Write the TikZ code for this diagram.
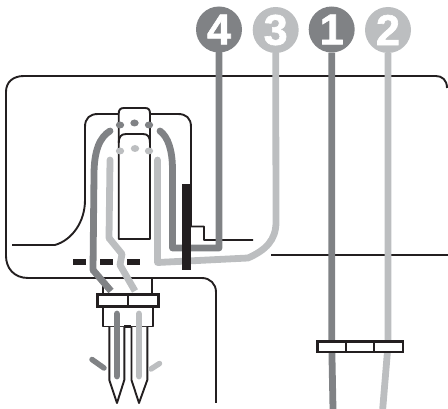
\documentclass[tikz,border=0pt]{standalone}
\usepackage{fontspec}
\setmainfont{Liberation Sans}
\newfontfamily\badgefont[FakeBold=1.5]{Liberation Sans}
\usetikzlibrary{shapes.geometric}
\definecolor{tdark}{HTML}{808285}
\definecolor{tlight}{HTML}{BCBEC0}
\definecolor{ink}{HTML}{231F20}
\tikzset{
  outline/.style={draw=ink,line width=1.9pt,line join=round},
  dark thread/.style={draw=tdark,line width=6.8pt},
  light thread/.style={draw=tlight,line width=6.8pt},
  badge/.style={circle,minimum size=46pt,inner sep=0pt,text=white,font=\badgefont\bfseries\fontsize{43}{43}\selectfont},
  dot/.style={ellipse,minimum width=8.5pt,minimum height=7pt,inner sep=0pt},
}
\begin{document}
\begin{tikzpicture}[x=1pt,y=-1pt]
\useasboundingbox (0,0) rectangle (448,409);
% body outlines
\draw[outline] (202,278) -- (28,278) .. controls (14,278) and (6,268) .. (6,256) -- (6,92) .. controls (6,82) and (13,76) .. (24,76) -- (436,76) .. controls (442,76) and (447,80) .. (447,88);
\draw[outline] (12,245) -- (55,245) .. controls (72,240) and (85,222) .. (85,200) -- (85,127) .. controls (85,118) and (90,114) .. (98,114) -- (118.7,114);
\draw[outline] (150,114) -- (178,114) .. controls (186,114) and (191,118) .. (191,127) -- (191,226.5) -- (204,226.5) -- (204,240) -- (253,240);
\draw[outline] (271,255) -- (448,255);
\draw[outline] (118.7,239) -- (118.7,114) .. controls (118.7,110) and (120,108) .. (124,108) -- (145,108) .. controls (149,108) and (150,110) .. (150,114) -- (150,239) -- cycle;
\draw[outline] (118.7,143) .. controls (118.7,137) and (121,134) .. (126,134) -- (143,134) .. controls (148,134) and (150,137) .. (150,143);
% lower body
\draw[outline] (202,278) .. controls (210,278) and (216,284) .. (216,292) -- (216,403);
\draw[outline] (103,278) -- (103,294);
\draw[outline] (152,278) -- (152,294);
% dots
\foreach \n/\px/\py/\c in {da/120/125/tdark,db/134.5/123/tdark,dc/149/125/tdark,la/120/151/tlight,lb/135/148.5/tlight,lc/149/151/tlight}
  \node[dot,fill=\c] (\n) at (\px,\py) {};
% badges
\node[badge,fill=tdark] (n4) at (219,29.5) {4};
\node[badge,fill=tlight] (n3) at (275.7,30) {3};
\node[badge,fill=tdark] (n1) at (331.7,29.5) {1};
\node[badge,fill=tlight] (n2) at (388,30) {2};
% threads
\draw[light thread,line cap=round,line join=round] (157.5,160) -- (157.5,262.5) -- (248,258) .. controls (266,250) and (276,240) .. (276,222) -- (n3.south);
\draw[dark thread,line cap=round,line join=round] (160,131) .. controls (168,137) and (172.5,150) .. (172.5,170) -- (172.5,248) -- (219,248) -- (n4.south);
\draw[dark thread,line cap=round,line join=round] (110,131) .. controls (100,137) and (94,150) .. (94,175) -- (93,270);
\draw[dark thread] (93,270) -- (111,291);
\draw[light thread,line cap=round] (110,160) -- (109,238);
\draw[light thread,line join=round] (109,238) -- (122,254) -- (120,265) -- (135,291);
% black bar
\fill[ink] (182.4,184) rectangle (191,270);
% dashes
\fill[ink] (73,258.7) rectangle (86,265.5);
\fill[ink] (100,258.7) rectangle (113,265.5);
\fill[ink] (127,258.7) rectangle (140,265.5);
% clamp
\node[draw=ink,line width=2.4pt,fill=white,minimum width=61pt,minimum height=12pt,inner sep=0pt] (clamp) at (128,300.5) {};
\draw[ink,line width=2.2pt] (clamp.north) -- (clamp.south);
\draw[outline] (103,307) -- (103,326.5) -- (153,326.5) -- (153,307);
\draw[ink,line width=3pt] (124,327) -- (131,327);
% needles
\draw[outline,fill=white] (109.3,327) -- (109.3,380) -- (117,403) -- (124.3,380) -- (124.3,327);
\draw[outline,fill=white] (131.5,327) -- (131.5,380) -- (139,403) -- (147.3,380) -- (147.3,327);
\draw[dark thread,line cap=round] (117,314) -- (117,376);
\draw[light thread,line cap=round] (139,314) -- (139,376);
\draw[dark thread,line width=5.5pt,line cap=round] (92,359.5) -- (104,368);
\draw[light thread,line width=5.5pt,line cap=round] (159.5,363.5) -- (151,369);
% right threads
\coordinate (b1) at (333,409);
\coordinate (b2) at (382.7,409);
\draw[dark thread] (n1.south) -- (331.7,342) -- (b1);
\draw[light thread] (n2.south) -- (388,345) -- (b2);
% guide
\node[draw=ink,line width=2.4pt,fill=white,minimum width=85.4pt,minimum height=10.6pt,inner sep=0pt] (guide) at (360,347) {};
\draw[ink,line width=2.2pt] (346,341.7) -- (346,352.3) (374,341.7) -- (374,352.3);
\end{tikzpicture}
\end{document}
